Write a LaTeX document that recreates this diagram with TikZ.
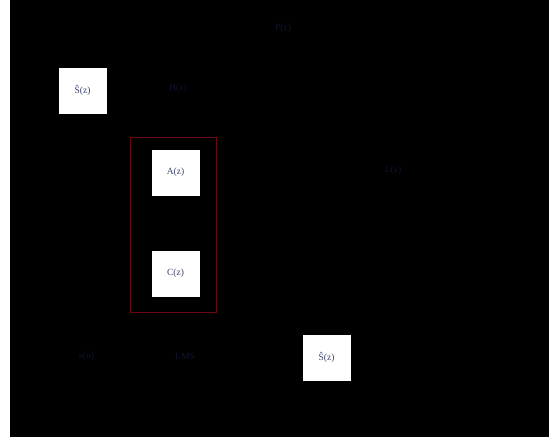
\documentclass[tikz,border=0pt]{standalone}
\usepackage{fontspec}
\setmainfont{Liberation Serif}
\definecolor{boxtext}{RGB}{60,68,110}
\definecolor{labtext}{RGB}{16,20,48}
\definecolor{darkred}{RGB}{105,8,18}
\tikzset{
  x=1pt,y=1pt,
  wbox/.style={draw=white,fill=white,minimum width=47pt,minimum height=45pt,inner sep=0pt,text=boxtext,font=\fontsize{9.5}{11}\selectfont},
  lab/.style={text=labtext,font=\fontsize{9.5}{11}\selectfont,inner sep=0pt}
}
\begin{document}
\begin{tikzpicture}
\useasboundingbox (0,0) rectangle (549,444);
\fill[white] (0,0) rectangle (549,444);
\fill[black] (10,7) rectangle (549,444);
% red frame
\node[draw=darkred,line width=0.8pt,minimum width=86pt,minimum height=175pt,inner sep=0pt] (frame) at (173,219.5) {};
% boxes
\node[wbox] (s1) at (82.5,353.5) {Ŝ(z)};
\node[wbox] (a) at (175.5,271.5) {A(z)};
\node[wbox] (c) at (175.5,170.5) {C(z)};
\node[wbox] (s2) at (326.5,86.5) {Ŝ(z)};
% faint labels
\node[lab] (p) at (283,416) {P(z)};
\node[lab] (h) at (178,356) {H(z)};
\node[lab] (l) at (393,274) {L(z)};
\node[lab] (x) at (86,88) {x(n)};
\node[lab] (lms) at (185,88) {LMS};
\end{tikzpicture}
\end{document}
